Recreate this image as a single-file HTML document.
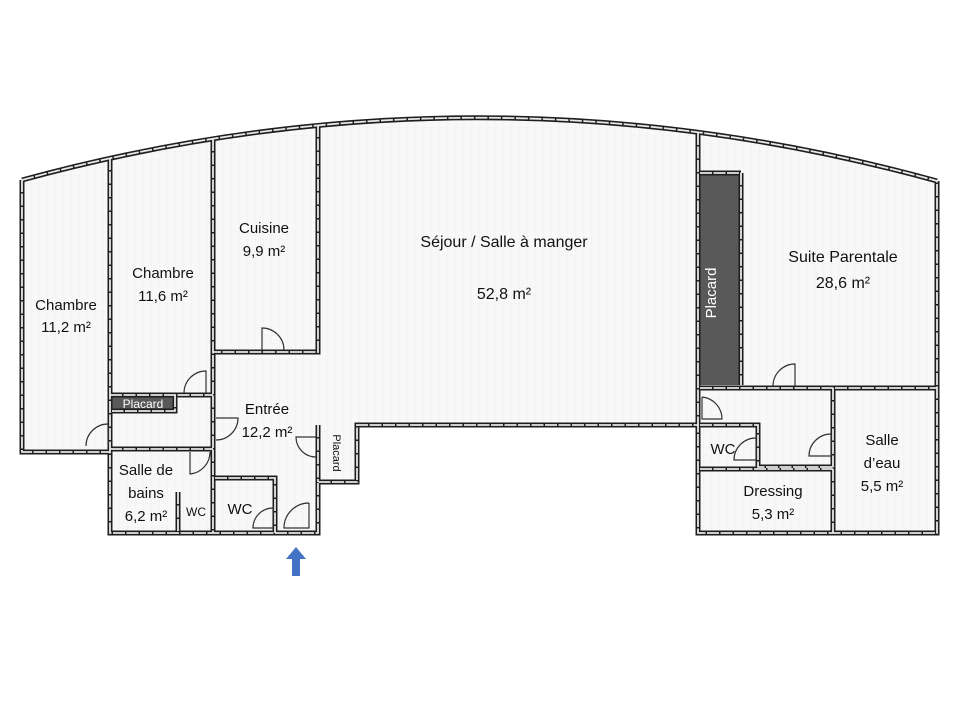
<!DOCTYPE html>
<html><head><meta charset="utf-8"><style>
html,body{margin:0;padding:0;background:#fff;}
svg{display:block;}
text{font-family:"Liberation Sans",sans-serif;fill:#111;}
</style></head><body>
<svg width="960" height="720" viewBox="0 0 960 720" xmlns="http://www.w3.org/2000/svg">
<defs>
<pattern id="g" width="8" height="8" patternUnits="userSpaceOnUse">
<rect width="8" height="8" fill="#f8f8f8"/>
<path d="M8 0V8H0" fill="none" stroke="#ececec" stroke-width="0.6"/>
</pattern>
</defs>
<path d="M22,180 Q480,55 937,181 L937,533 L698,533 L698,425 L357,425 L357,482 L318,482 L318,533 L110,533 L110,452 L22,452 Z" fill="url(#g)"/>
<rect x="700" y="173" width="41" height="212" fill="#595959"/>
<rect x="112" y="395" width="63" height="16" fill="#595959"/>
<g fill="none" stroke-linecap="square" stroke-linejoin="miter">
<g id="walls">
<path d="M22,180 Q480,55 937,181"/>
<path d="M22,180 V452 H110"/>
<path d="M110,158 V533 H318 V482 H357 V425 H698 V533 H937 V181"/>
<path d="M213,139 V533"/>
<path d="M318,125 V352 H213"/>
<path d="M318,425 V482"/>
<path d="M110,395 H213"/>
<path d="M110,449 H213"/>
<path d="M178,492 V533"/>
<path d="M215,478 H275 V533"/>
<path d="M698,133 V425"/>
<path d="M741,173 V385"/>
<path d="M700,173 H741"/>
<path d="M700,388 H937"/>
<path d="M833,388 V533"/>
<path d="M700,425 H758 V467 H833"/>
<path d="M700,469 H833"/>
<path d="M175,395 V411 H112"/>
</g>
</g>
<use href="#walls" stroke="#1e1e1e" stroke-width="5" fill="none"/>
<use href="#walls" stroke="#e8e8e8" stroke-width="1.8" fill="none" stroke-dasharray="12 1.5"/>
<g fill="none" stroke="#333" stroke-width="1.2">
<path d="M262,350 V328 A22,22 0 0 1 284,350"/>
<path d="M206,393 V371 A22,22 0 0 0 184,393"/>
<path d="M108,446 V424 A22,22 0 0 0 86,446"/>
<path d="M216,418 H238 A22,22 0 0 1 216,440"/>
<path d="M190,452 V474 A22,22 0 0 0 210,452" />
<path d="M316,437 H296 A20,20 0 0 0 316,457"/>
<path d="M273,508 V528 H253 A20,20 0 0 1 273,508"/>
<path d="M309,503 V528 H284 A25,25 0 0 1 309,503"/>
<path d="M795,386 V364 A22,22 0 0 0 773,386"/>
<path d="M702,397 V419 H722 A22,22 0 0 0 702,397"/>
<path d="M756,438 V460 H734 A22,22 0 0 1 756,438"/>
<path d="M831,434 V456 H809 A22,22 0 0 1 831,434"/>
</g>
<g font-size="15" text-anchor="middle">
<text x="66" y="310">Chambre</text><text x="66" y="332">11,2 m²</text>
<text x="163" y="278">Chambre</text><text x="163" y="301">11,6 m²</text>
<text x="264" y="233">Cuisine</text><text x="264" y="256">9,9 m²</text>
<text x="504" y="247" font-size="16">Séjour / Salle à manger</text>
<text x="504" y="299" font-size="16">52,8 m²</text>
<text x="843" y="262" font-size="16">Suite Parentale</text>
<text x="843" y="288" font-size="16">28,6 m²</text>
<text x="267" y="414">Entrée</text><text x="267" y="437">12,2 m²</text>
<text x="146" y="475">Salle de</text><text x="146" y="498">bains</text><text x="146" y="521">6,2 m²</text>
<text x="196" y="516" font-size="12">WC</text>
<text x="240" y="514">WC</text>
<text x="723" y="454">WC</text>
<text x="773" y="496">Dressing</text><text x="773" y="519">5,3 m²</text>
<text x="882" y="445">Salle</text><text x="882" y="468">d’eau</text><text x="882" y="491">5,5 m²</text>
</g>
<text x="143" y="408" font-size="12" style="fill:#fff" text-anchor="middle">Placard</text>
<text transform="translate(716,293) rotate(-90)" font-size="15" style="fill:#fff" text-anchor="middle">Placard</text>
<text transform="translate(333,453) rotate(90)" font-size="11" text-anchor="middle">Placard</text>
<path d="M296,547 L306,559 H300 V576 H292 V559 H286 Z" fill="#4472c4"/>
</svg>
</body></html>
